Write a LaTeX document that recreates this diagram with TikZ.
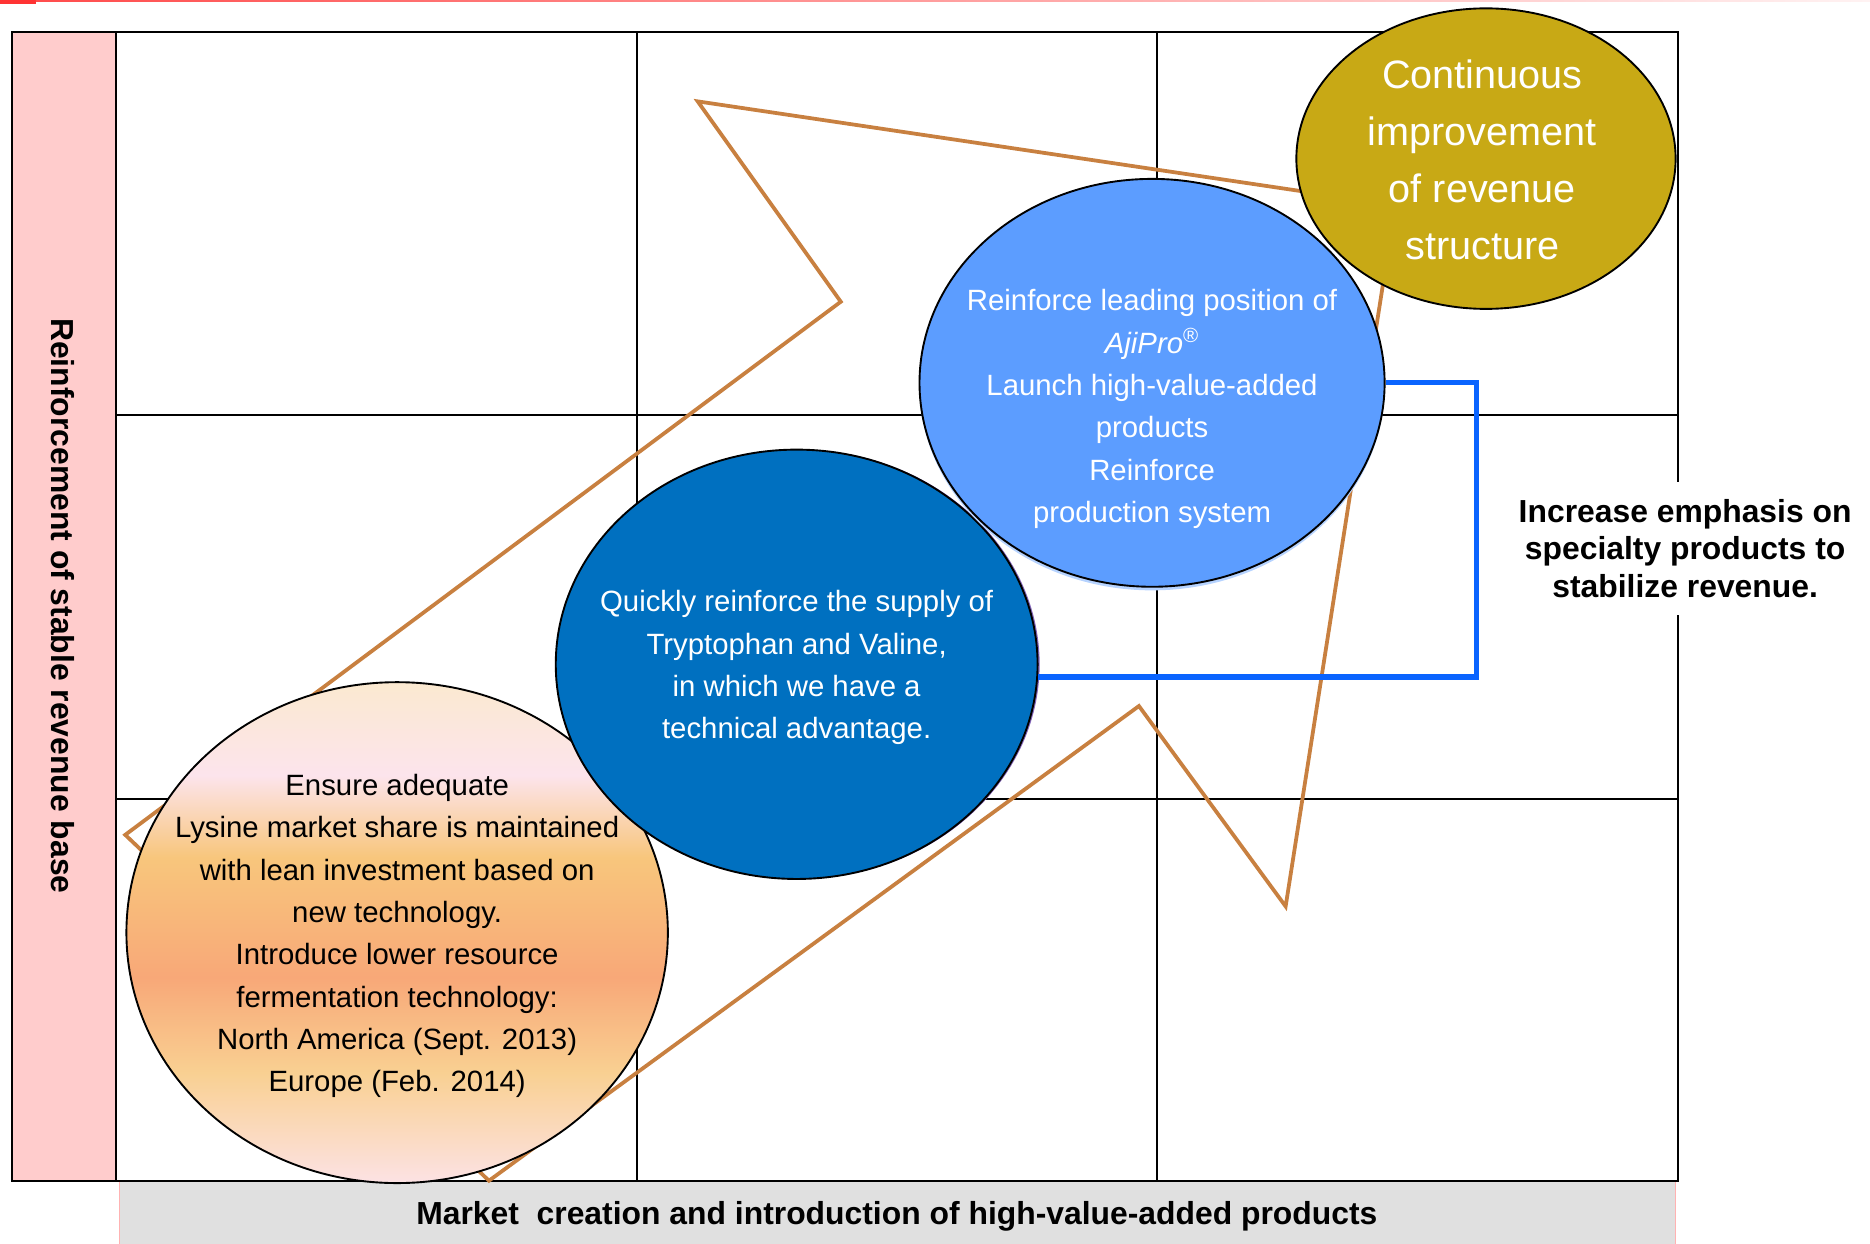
\documentclass[tikz,border=0pt]{standalone}
\usepackage{fontspec}
\setmainfont{Liberation Sans}
\usetikzlibrary{shapes.geometric,shadows}

\definecolor{axispink}{RGB}{255,204,204}
\definecolor{axisgray}{RGB}{224,224,224}
\definecolor{zigzag}{RGB}{200,128,64}
\definecolor{lightbubble}{RGB}{92,157,255}
\definecolor{darkbubble}{RGB}{0,112,192}
\definecolor{darkrim}{RGB}{130,100,185}
\definecolor{goldbubble}{RGB}{200,169,21}
\definecolor{bracketblue}{RGB}{10,100,255}
\definecolor{peachtop}{RGB}{251,233,208}
\definecolor{peachpink}{RGB}{252,228,236}
\definecolor{peachyellow}{RGB}{248,198,124}
\definecolor{peachsalmon}{RGB}{248,168,120}
\definecolor{peachlight}{RGB}{249,208,146}
\definecolor{peachbottom}{RGB}{252,226,228}

\pgfdeclareverticalshading{lysinefade}{100bp}{%
  color(0bp)=(peachbottom); color(25bp)=(peachbottom);
  color(36bp)=(peachlight); color(45.5bp)=(peachsalmon);
  color(57.5bp)=(peachyellow); color(65.7bp)=(peachpink);
  color(75bp)=(peachtop); color(100bp)=(peachtop)}

\begin{document}
\begin{tikzpicture}[x=0.2mm, y=-0.2mm,
  every node/.style={align=center, inner sep=0pt},
  bubble/.style={shape=ellipse, draw, line width=0.9pt},
  body/.style={font=\fontsize{14}{20.2}\selectfont, yshift=-0.6mm},
  heading/.style={font=\bfseries\fontsize{15.2}{18}\selectfont},
  gridline/.style={line width=0.8pt}]
  \useasboundingbox (0,0) rectangle (1568,1043);
  \fill[red!80] (0,0) rectangle (30,3);
  \shade[left color=red!70, right color=red!5] (30,0) rectangle (1568,1.5);

  % axes
  \fill[axisgray] (100,990) rectangle (1405,1043);
  \draw[red!30] (100,990) -- (100,1043) (1405,990) -- (1405,1043);
  \node[heading] (xaxis) at (752,1020) {Market\ \ creation and introduction of high-value-added products};
  \draw[line width=1pt, fill=axispink] (10,27) rectangle (97,990);
  \node[heading, rotate=-90] (yaxis) at (53,508) {Reinforcement of stable revenue base};

  % 3x3 grid
  \draw[gridline] (97,27) rectangle (1407,990);
  \foreach \x in {534,970} \draw[gridline] (\x,27) -- (\x,990);
  \foreach \y in {348,670} \draw[gridline] (97,\y) -- (1407,\y);

  \node[heading, fill=white, inner xsep=4pt, inner ysep=8pt] (emphasis) at (1413,460)
    {Increase emphasis on\\specialty products to\\stabilize revenue.};

  \draw[zigzag, line width=1.8pt] (105,700) -- (705,253) -- (585,85) -- (1170,172)
    -- (1078,760) -- (955,592) -- (410,990) -- cycle;

  \node[bubble, shade, shading=lysinefade, minimum width={454*0.2mm}, minimum height={420*0.2mm}] (lysine) at (333,782) {};
  \node[body] (lysine-text) at (lysine) {Ensure adequate\\Lysine market share is maintained\\with lean investment based on\\new technology.\\Introduce lower resource\\fermentation technology:\\North America (Sept. 2013)\\Europe (Feb. 2014)};

  \node[bubble, fill=darkbubble, minimum width={404*0.2mm}, minimum height={360*0.2mm},
    drop shadow={shadow xshift=0.35mm, shadow yshift=0mm, fill=darkrim, opacity=1}] (supply) at (668,557) {};
  \node[body, text=white] (supply-text) at (supply) {Quickly reinforce the supply of\\Tryptophan and Valine,\\in which we have a\\technical advantage.};

  \node[bubble, fill=lightbubble, minimum width={390*0.2mm}, minimum height={342*0.2mm},
    drop shadow={shadow xshift=0mm, shadow yshift=-0.6mm, fill=lightbubble!45, opacity=1}] (ajipro) at (966,321) {};
  \node[body, text=white] (ajipro-text) at (966,340) {Reinforce leading position of\\\textit{AjiPro}\textsuperscript{®}\\Launch high-value-added\\products\\Reinforce\\production system};

  \node[bubble, fill=goldbubble, minimum width={318*0.2mm}, minimum height={252*0.2mm}] (revenue) at (1246,133) {};
  \node[text=white, font=\fontsize{18.9}{27.3}\selectfont] (revenue-text) at (1243,134) {Continuous\\improvement\\of revenue\\structure};

  \draw[bracketblue, line width=2.5pt] (ajipro.east) -- ++(76,0) |- (supply.-3);
\end{tikzpicture}
\end{document}
